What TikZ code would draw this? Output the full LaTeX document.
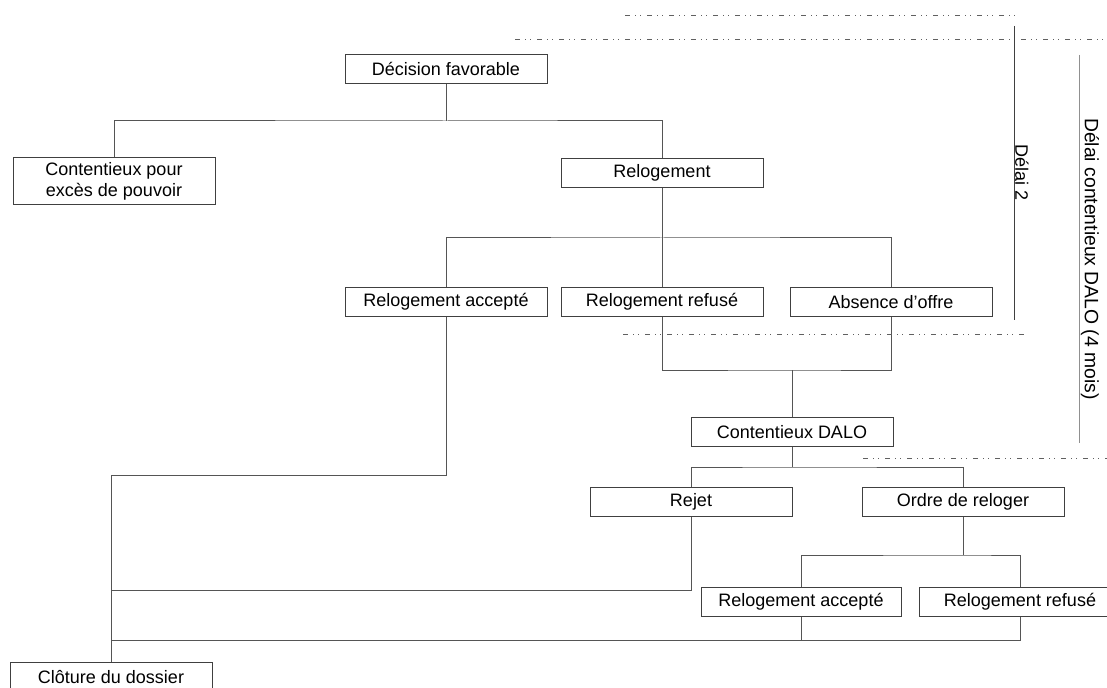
\documentclass[tikz,border=0pt]{standalone}
\usepackage{fontspec}
\setmainfont{Liberation Sans}
\definecolor{boxc}{HTML}{404040}
\definecolor{lnc}{HTML}{555555}
\definecolor{lightc}{HTML}{909090}
\definecolor{dashc}{HTML}{606060}
\begin{document}
\begin{tikzpicture}[x=0.75pt,y=-0.75pt,
  box/.style={draw=boxc,line width=0.75pt,minimum width=151.5pt,minimum height=22pt,inner sep=0pt,align=center,font=\fontsize{13.5}{16}\selectfont},
  conn/.style={draw=lnc,line width=0.75pt},
  dd/.style={draw=dashc,line width=0.75pt,dash pattern=on 3.75pt off 3.75pt on 0.75pt off 3pt on 0.75pt off 4.5pt},
  lbl/.style={font=\fontsize{13.5}{16}\selectfont,rotate=-90,inner sep=0pt}]
\useasboundingbox (0,0) rectangle (1107,688);
\clip (0,0) rectangle (1107,688);
% nodes
\node[box] (dec) at (446,69) {Décision favorable};
\node[box,minimum height=35.25pt] (cep) at (114,181.5) {Contentieux pour\\excès de pouvoir};
\node[box] (rel) at (662,173) {Relogement};
\node[box] (ra) at (446,302) {Relogement accepté};
\node[box] (rr) at (662,302) {Relogement refusé};
\node[box] (ao) at (891,302) {Absence d'offre};
\node[box] (cd) at (792,432) {Contentieux DALO};
\node[box] (rej) at (691,502) {Rejet};
\node[box] (odr) at (963,502) {Ordre de reloger};
\node[box,minimum width=150pt] (ra2) at (801,602) {Relogement accepté};
\node[box] (rr2) at (1020,602) {Relogement refusé};
\node[box] (clo) at (111,677) {Clôture du dossier};
% junctions
\coordinate (j1) at (446,121);
\coordinate (j2) at (662,238);
\coordinate (j3) at (792,370);
\coordinate (j4) at (792,467);
\coordinate (j5) at (963,555);
\coordinate (k1) at (111,475);
\coordinate (k2) at (111,590);
\coordinate (k3) at (111,640);
% connectors
\draw[conn] (dec.south) -- (j1);
\draw[conn] (cep.north) |- (j1) -| (rel.north);
\draw[conn] (rel.south) -- (rr.north);
\draw[conn] (ra.north) |- (j2) -| (ao.north);
\draw[conn] (rr.south) |- (j3) -| (ao.south);
\draw[conn] (j3) -- (cd.north);
\draw[conn] (cd.south) -- (j4);
\draw[conn] (rej.north) |- (j4) -| (odr.north);
\draw[conn] (odr.south) -- (j5);
\draw[conn] (ra2.north) |- (j5) -| (rr2.north);
\draw[conn] (ra.south) |- (k1) -- (clo.north);
\draw[conn] (rej.south) |- (k2);
\draw[conn] (rr2.south) |- (k3);
\draw[conn] (ra2.south) -- (ra2.south |- k3);
% time markers
\coordinate (d1a) at (625,16); \coordinate (d1b) at (1015,16);
\coordinate (d2a) at (515,40); \coordinate (d2b) at (1107,40);
\coordinate (d3a) at (623,334); \coordinate (d3b) at (1025,334);
\coordinate (d4a) at (863,458); \coordinate (d4b) at (1107,458);
\draw[dd] (d1a) -- (d1b);
\draw[dd] (d2a) -- (d2b);
\draw[dd] (d3a) -- (d3b);
\draw[dd] (d4a) -- (d4b);
\coordinate (v1a) at (1014,26); \coordinate (v1b) at (1014,320);
\draw[line width=0.75pt,draw=boxc] (v1a) -- (v1b);
\node[lbl] (t1) at (1022,173) {Délai 2};
\coordinate (v2a) at (1079,55); \coordinate (v2b) at (1079,443);
\draw[line width=0.75pt,draw=lightc] (v2a) -- (v2b);
\node[lbl,font=\fontsize{14.5}{17}\selectfont] (t2) at (1090,259) {Délai contentieux DALO (4 mois)};
\end{tikzpicture}
\end{document}
